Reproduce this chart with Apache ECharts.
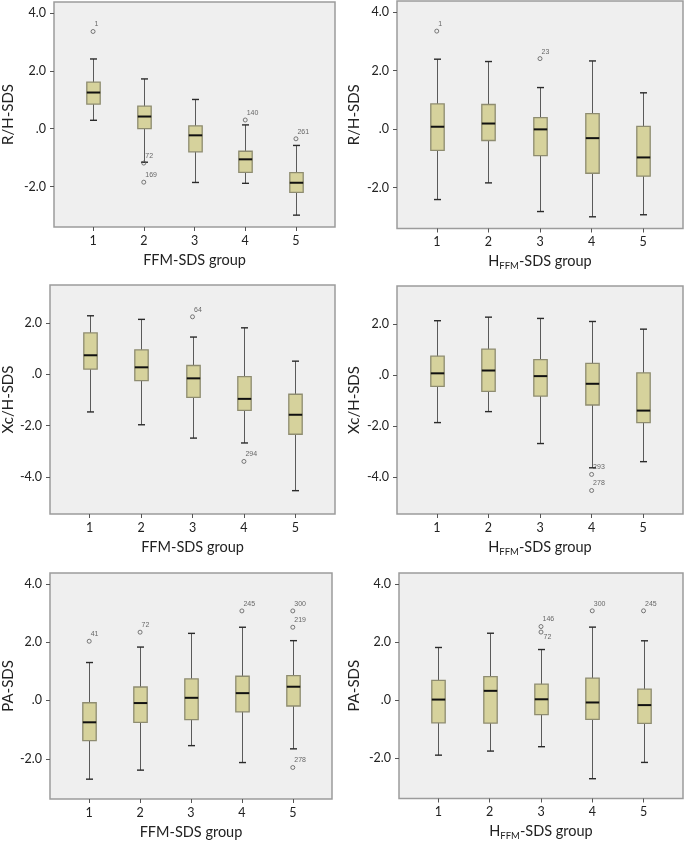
<!DOCTYPE html>
<html><head><meta charset="utf-8">
<script src="https://cdn.jsdelivr.net/npm/echarts@6/dist/echarts.min.js"></script>
<style>html,body{margin:0;padding:0;background:#fff;}#c{width:685px;height:842px;}</style>
</head><body><div id="c"></div>
<script>
// ---------- data ----------
const groups = [1, 2, 3, 4, 5];
const groupTickLabels = ['1', '2', '3', '4', '5'];
const yTicksTop = [-2, 0, 2, 4];
const yTicksMid = [-4, -2, 0, 2];
const yTicksBot = [-2, 0, 2, 4];

// each box: [lower whisker, Q1, median, Q3, upper whisker]
const rhByFfm = [[0.29, 0.85, 1.25, 1.61, 2.41], [-1.16, 0.00, 0.42, 0.78, 1.72], [-1.86, -0.80, -0.23, 0.10, 1.01], [-1.89, -1.51, -1.06, -0.78, 0.13], [-2.99, -2.20, -1.87, -1.52, -0.58]];
const rhByFfmOutliers = [[1, 3.36, '1'], [2, -1.19, '72'], [2, -1.85, '169'], [4, 0.30, '140'], [5, -0.35, '261']];

const rhByHffm = [[-2.41, -0.73, 0.08, 0.86, 2.39], [-1.84, -0.39, 0.19, 0.84, 2.31], [-2.82, -0.91, -0.01, 0.39, 1.42], [-3.00, -1.51, -0.31, 0.53, 2.33], [-2.93, -1.61, -0.97, 0.09, 1.24]];
const rhByHffmOutliers = [[1, 3.35, '1'], [3, 2.41, '23']];

const xcByFfm = [[-1.47, 0.20, 0.74, 1.61, 2.28], [-1.97, -0.25, 0.27, 0.95, 2.14], [-2.49, -0.90, -0.16, 0.34, 1.45], [-2.68, -1.41, -0.96, -0.09, 1.81], [-4.54, -2.34, -1.58, -0.78, 0.51]];
const xcByFfmOutliers = [[3, 2.24, '64'], [4, -3.40, '294']];

const xcByHffm = [[-1.87, -0.45, 0.06, 0.73, 2.12], [-1.44, -0.65, 0.17, 1.01, 2.26], [-2.69, -0.83, -0.05, 0.60, 2.21], [-3.64, -1.18, -0.35, 0.45, 2.09], [-3.40, -1.87, -1.40, 0.08, 1.79]];
const xcByHffmOutliers = [[4, -3.90, '293'], [4, -4.53, '278']];

const paByFfm = [[-2.70, -1.38, -0.75, -0.08, 1.30], [-2.39, -0.75, -0.09, 0.46, 1.83], [-1.55, -0.66, 0.09, 0.74, 2.30], [-2.13, -0.39, 0.25, 0.83, 2.51], [-1.66, -0.19, 0.47, 0.85, 2.05]];
const paByFfmOutliers = [[1, 2.03, '41'], [2, 2.34, '72'], [4, 3.07, '245'], [5, 3.07, '300'], [5, 2.51, '219'], [5, -2.30, '278']];

const paByHffm = [[-1.89, -0.78, 0.02, 0.68, 1.81], [-1.75, -0.79, 0.32, 0.81, 2.30], [-1.60, -0.50, 0.03, 0.55, 1.74], [-2.70, -0.66, -0.08, 0.76, 2.51], [-2.14, -0.80, -0.17, 0.38, 2.04]];
const paByHffmOutliers = [[3, 2.53, '146'], [3, 2.34, '72'], [4, 3.07, '300'], [5, 3.07, '245']];

const yNames = ['R/H-SDS', 'Xc/H-SDS', 'PA-SDS'];
const xNameFfm = 'FFM-SDS group';
const xNameHffm = '{h|H}{s|FFM}{h|-SDS group}';

// ---------- layout / style ----------
const FONT = 'Lato';
const panels = [
  { grid: { left: 53, top: 2, width: 282, height: 225 }, yMin: -3.4, yMax: 4.38, ticks: yTicksTop, yName: yNames[0], yGap: 38, xName: xNameFfm, xGap: 26, boxes: rhByFfm, outliers: rhByFfmOutliers, below: {} },
  { grid: { left: 397, top: 1, width: 286, height: 227.5 }, yMin: -3.4, yMax: 4.38, ticks: yTicksTop, yName: yNames[0], yGap: 35, xName: xNameHffm, xGap: 23.5, boxes: rhByHffm, outliers: rhByHffmOutliers, below: {} },
  { grid: { left: 49, top: 285, width: 286, height: 229 }, yMin: -5.45, yMax: 3.48, ticks: yTicksMid, yName: yNames[1], yGap: 34, xName: xNameFfm, xGap: 26, boxes: xcByFfm, outliers: xcByFfmOutliers, below: {} },
  { grid: { left: 397, top: 286, width: 286, height: 228 }, yMin: -5.45, yMax: 3.48, ticks: yTicksMid, yName: yNames[1], yGap: 35, xName: xNameHffm, xGap: 23.5, boxes: xcByHffm, outliers: xcByHffmOutliers, below: {} },
  { grid: { left: 47, top: 573, width: 285, height: 226 }, yMin: -3.38, yMax: 4.37, ticks: yTicksBot, yName: yNames[2], yGap: 32, xName: xNameFfm, xGap: 26, boxes: paByFfm, outliers: paByFfmOutliers, below: {} },
  { grid: { left: 399, top: 573, width: 284, height: 226 }, yMin: -3.38, yMax: 4.37, ticks: yTicksBot, yName: yNames[2], yGap: 37, xName: xNameHffm, xGap: 23.5, boxes: paByHffm, outliers: paByHffmOutliers, below: { '72': true } }
];

const fmt = v => (v === 0 ? '.0' : v.toFixed(1));

function renderBox(params, api) {
  const x = api.value(0);
  const lo = api.coord([x, api.value(1)]);
  const q1 = api.coord([x, api.value(2)]);
  const md = api.coord([x, api.value(3)]);
  const q3 = api.coord([x, api.value(4)]);
  const hi = api.coord([x, api.value(5)]);
  const cx = Math.round(lo[0]) + 0.5;
  const bw = 6.7, cw = 3.5;
  return {
    type: 'group',
    children: [
      { type: 'line', shape: { x1: cx, y1: hi[1], x2: cx, y2: lo[1] }, style: { stroke: '#5a5a5a', lineWidth: 1 } },
      { type: 'line', shape: { x1: cx - cw, y1: hi[1], x2: cx + cw, y2: hi[1] }, style: { stroke: '#2a2a2a', lineWidth: 1.4 } },
      { type: 'line', shape: { x1: cx - cw, y1: lo[1], x2: cx + cw, y2: lo[1] }, style: { stroke: '#2a2a2a', lineWidth: 1.4 } },
      { type: 'rect', shape: { x: cx - bw, y: q3[1], width: bw * 2, height: q1[1] - q3[1] }, style: { fill: '#d6d29c', stroke: '#8e8c70', lineWidth: 1.3 } },
      { type: 'line', shape: { x1: cx - bw, y1: md[1], x2: cx + bw, y2: md[1] }, style: { stroke: '#111', lineWidth: 2 } }
    ]
  };
}

const option = {
  backgroundColor: '#fff',
  animation: false,
  textStyle: { fontFamily: FONT },
  grid: [], xAxis: [], yAxis: [], series: []
};

panels.forEach((p, i) => {
  option.grid.push(Object.assign({ show: true, backgroundColor: '#efefef', borderColor: '#9c9c9c', borderWidth: 1.5, containLabel: false }, p.grid));
  option.xAxis.push({
    type: 'value', gridIndex: i, min: 0.23, max: 5.77,
    name: p.xName, nameLocation: 'middle', nameGap: p.xGap,
    nameTextStyle: { fontFamily: FONT, fontSize: 14.5, color: '#222', rich: { h: { fontFamily: FONT, fontSize: 14.5, color: '#222' }, s: { fontFamily: FONT, fontSize: 9.5, color: '#222', padding: [9, 0, 0, 0] } } },
    axisLine: { show: false, onZero: false },
    splitLine: { show: false },
    axisTick: { show: true, customValues: groups, length: 4, lineStyle: { color: '#555' } },
    axisLabel: { customValues: groups, formatter: v => groupTickLabels[groups.indexOf(v)], fontSize: 12.5, color: '#222', margin: 7, fontFamily: FONT }
  });
  option.yAxis.push({
    type: 'value', gridIndex: i, min: p.yMin, max: p.yMax,
    name: p.yName, nameLocation: 'middle', nameGap: p.yGap, nameRotate: 90,
    nameTextStyle: { fontFamily: FONT, fontSize: 15, color: '#222' },
    axisLine: { show: false, onZero: false },
    splitLine: { show: false },
    axisTick: { show: true, customValues: p.ticks, length: 4, lineStyle: { color: '#555' } },
    axisLabel: { customValues: p.ticks, formatter: fmt, fontSize: 12.5, color: '#222', margin: 8, fontFamily: FONT }
  });
  option.series.push({
    type: 'custom', xAxisIndex: i, yAxisIndex: i,
    renderItem: renderBox,
    data: groups.map((g, k) => [g].concat(p.boxes[k])),
    z: 2
  });
  option.series.push({
    type: 'scatter', xAxisIndex: i, yAxisIndex: i,
    symbol: 'circle', symbolSize: 4,
    itemStyle: { color: 'rgba(0,0,0,0)', borderColor: '#5a5a5a', borderWidth: 1 },
    data: p.outliers.map(o => ({
      value: [o[0], o[1]], name: o[2],
      label: { position: p.below[o[2]] ? [5, 4] : [4, -8] }
    })),
    label: { show: true, formatter: '{b}', fontSize: 7, color: '#444', fontFamily: 'Liberation Sans', align: 'left', verticalAlign: 'top' },
    z: 3
  });
});

const chart = echarts.init(document.getElementById('c'), null, { renderer: 'canvas' });
chart.setOption(option);
</script>
</body></html>
